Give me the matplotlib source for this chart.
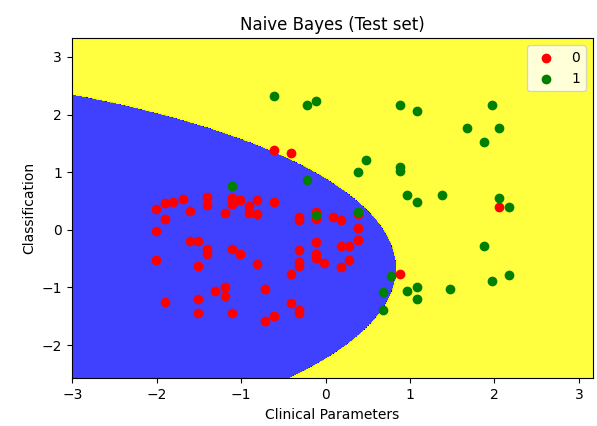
import numpy as np
import matplotlib
matplotlib.use('Agg')
import matplotlib.pyplot as plt
from matplotlib.colors import ListedColormap

# test set points
red_x = [-0.609, -0.410, -2.007, -1.897, -1.805, -1.692, -1.897, -1.601, -1.400, -1.400,
         -1.195, -1.108, -1.108, -1.009, -0.903, -0.903, -0.812, -0.812, -0.607, -2.007,
         -1.601, -1.510, -1.400, -1.400, -1.108, -1.009, -2.007, -1.510, -0.812, -1.897,
         -1.510, -1.305, -1.195, -1.195, -1.510, -1.108, -0.717, -0.717, -0.607, -0.312,
         -0.312, -0.111, -0.111, 0.087, 0.182, 0.383, 0.383, 0.383, -0.111, 0.182,
         0.280, -0.312, -0.111, -0.111, -0.312, -0.312, -0.016, 0.280, 0.182, -0.410,
         0.883, -0.410, -0.312, -0.312, 2.057]
red_y = [1.388, 1.331, 0.354, 0.471, 0.488, 0.541, 0.192, 0.324, 0.576, 0.429,
         0.297, 0.558, 0.441, 0.516, 0.412, 0.297, 0.516, 0.267, 0.488, -0.024,
         -0.187, -0.187, -0.326, -0.419, -0.326, -0.413, -0.518, -0.623, -0.593, -1.256,
         -1.198, -1.059, -1.001, -1.146, -1.443, -1.443, -1.036, -1.577, -1.495, 0.227,
         0.167, 0.307, 0.190, 0.227, 0.167, 0.279, 0.023, -0.169, -0.216, -0.274,
         -0.274, -0.356, -0.413, -0.488, -0.565, -0.635, -0.576, -0.530, -0.645, -0.762,
         -0.762, -1.273, -1.390, -1.448, 0.401]

green_x = [-1.108, -0.221, 0.477, 0.383, 0.883, 0.883, 0.969, 1.080, -0.111, 0.383,
           0.773, 0.678, 0.678, 0.969, 1.080, 1.080, -0.607, -0.221, -0.111, 0.883,
           1.080, 1.967, 1.672, 2.057, 1.876, 1.376, 2.057, 2.172, 1.876, 1.474,
           1.971, 2.172]
green_y = [0.760, 0.865, 1.214, 1.005, 1.092, 1.022, 0.598, 0.481, 0.250, 0.307,
           -0.809, -1.088, -1.390, -1.059, -0.984, -1.204, 2.330, 2.173, 2.233, 2.173,
           2.069, 2.173, 1.762, 1.762, 1.518, 0.598, 0.546, 0.401, -0.274, -1.029,
           -0.897, -0.792]

# decision region of the classifier (class 0 inside the ellipse)
center_x, center_y = -7.34, -0.67
semi_x, semi_y = 8.18, 3.57

X_set = np.column_stack([red_x + green_x, red_y + green_y])
y_set = np.array([0] * len(red_x) + [1] * len(green_x))

fig = plt.figure(figsize=(5.97, 4.26), dpi=100)
ax = fig.add_axes([0.1201, 0.112, 0.8727, 0.798])

X1, X2 = np.meshgrid(np.arange(X_set[:, 0].min() - 1, X_set[:, 0].max() + 1, 0.01),
                     np.arange(X_set[:, 1].min() - 1, X_set[:, 1].max() + 1, 0.01))
inside = ((X1 - center_x) / semi_x) ** 2 + ((X2 - center_y) / semi_y) ** 2 <= 1
Z = np.where(inside, 0, 1)
ax.contourf(X1, X2, Z, alpha=0.75, cmap=ListedColormap(('blue', 'yellow')))
ax.set_xlim(X1.min(), X1.max())
ax.set_ylim(X2.min(), X2.max())

for i, j in enumerate(np.unique(y_set)):
    ax.scatter(X_set[y_set == j, 0], X_set[y_set == j, 1],
               c=[ListedColormap(('red', 'green'))(i)], label=j)

ax.set_title('Naive Bayes (Test set)')
ax.set_xlabel('Clinical Parameters')
ax.set_ylabel('Classification')
ax.legend(loc='upper right')

plt.savefig('out.png', dpi=100)
